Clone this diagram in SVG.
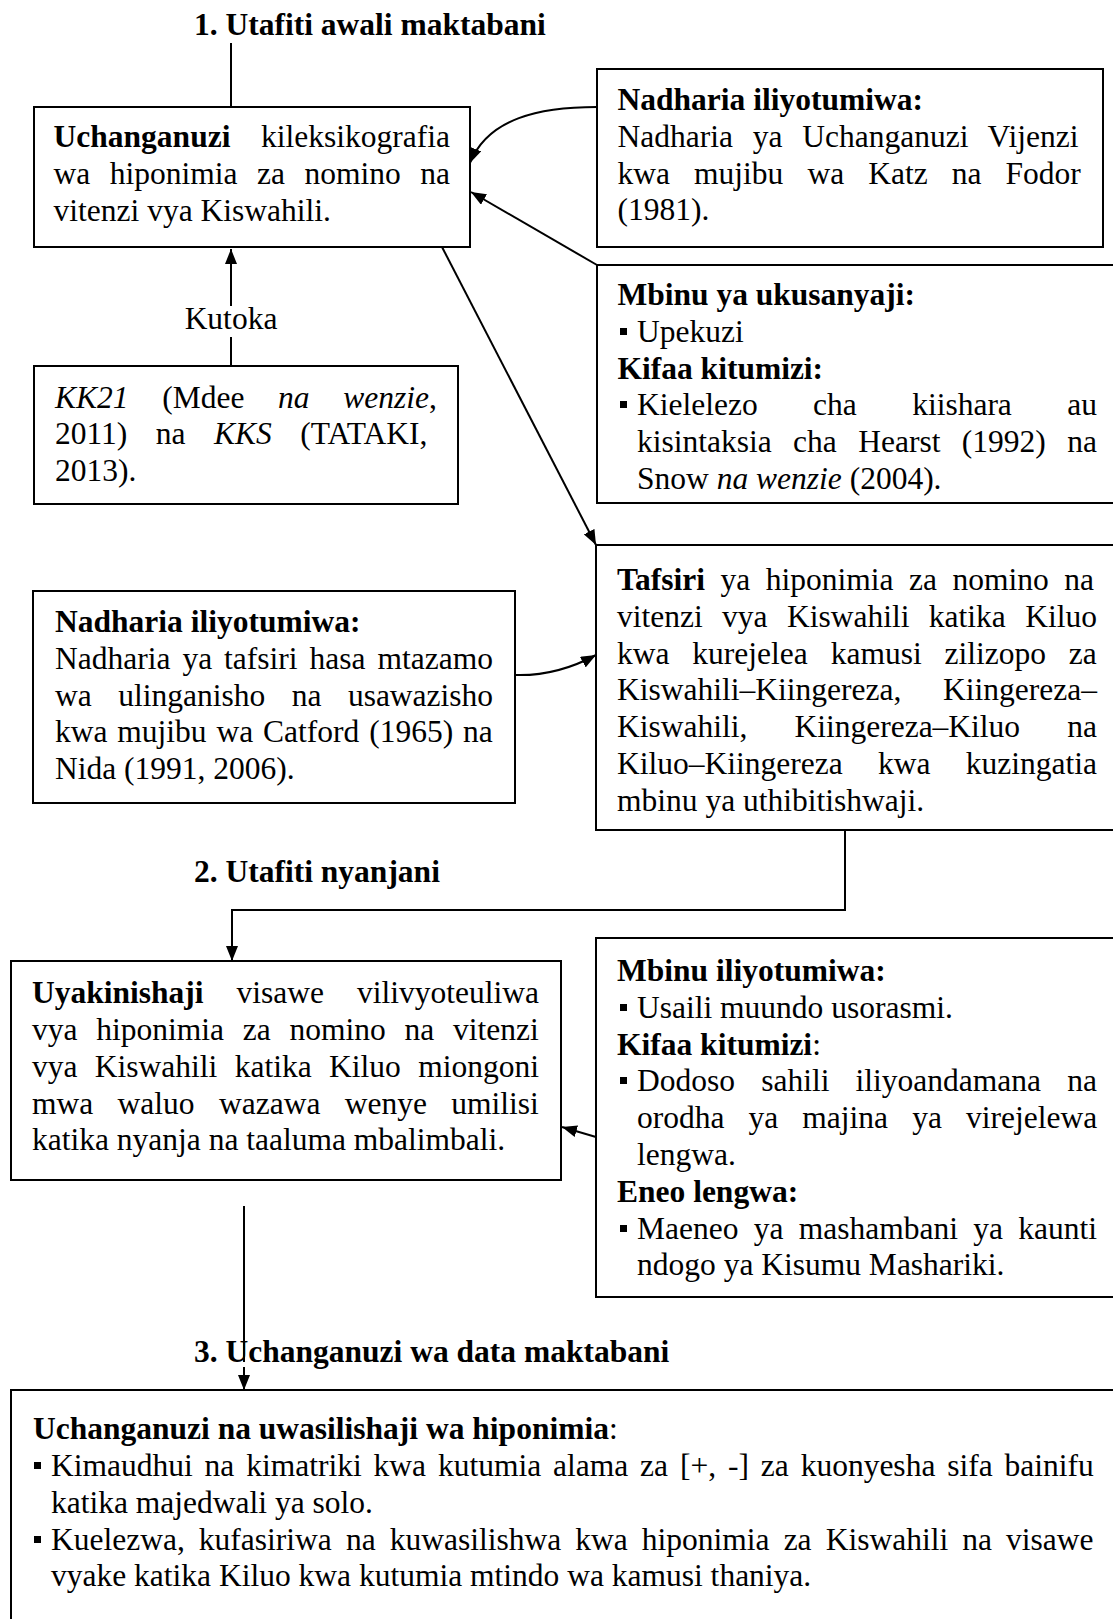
<svg xmlns="http://www.w3.org/2000/svg" width="1113" height="1619" viewBox="0 0 1113 1619">
<defs>
<style>
text{font-family:"Liberation Serif","Times New Roman",serif;font-size:31.5px;fill:#000}
.b{font-weight:bold}
.i{font-style:italic}
.box{fill:#fff;stroke:#000;stroke-width:2}
.ln{fill:none;stroke:#000;stroke-width:2}
.bul{fill:#000}
</style>
<marker id="ah" markerUnits="userSpaceOnUse" markerWidth="15" markerHeight="12" refX="15" refY="6" orient="auto">
<path d="M0,0 L15,6 L0,12 z" fill="#000"/>
</marker>
</defs>
<rect width="1113" height="1619" fill="#fff"/>

<g id="connectors">
<line class="ln" x1="231" y1="43" x2="231" y2="107"/>
<line class="ln" x1="231" y1="367" x2="231" y2="337"/>
<line class="ln" x1="231" y1="306" x2="231" y2="249" marker-end="url(#ah)"/>
<line class="ln" x1="442" y1="247" x2="596" y2="545" marker-end="url(#ah)"/>
<path class="ln" d="M597,107 C540,107 488,118 470,163" marker-end="url(#ah)"/>
<line class="ln" x1="597" y1="265" x2="471" y2="192" marker-end="url(#ah)"/>
<path class="ln" d="M515,675 C545,676 572,668 596,655" marker-end="url(#ah)"/>
<polyline class="ln" points="845,830 845,910 232,910 232,961" marker-end="url(#ah)"/>
<line class="ln" x1="596" y1="1137" x2="562" y2="1127" marker-end="url(#ah)"/>
<line class="ln" x1="244" y1="1206" x2="244" y2="1362"/>
<line class="ln" x1="244" y1="1367" x2="244" y2="1390" marker-end="url(#ah)"/>
</g>

<g id="heading1"><text class="b" x="194" y="35">1. Utafiti awali maktabani</text></g>
<g id="heading2"><text class="b" x="194" y="882">2.  Utafiti nyanjani</text></g>
<g id="heading3"><text class="b" x="194" y="1362">3.  Uchanganuzi wa data maktabani</text></g>
<g id="label-kutoka"><text x="231" y="329" text-anchor="middle">Kutoka</text></g>

<g id="node-uchanganuzi">
<rect class="box" x="34" y="107" width="436" height="140"/>
<text class="b" x="53.6" y="147">Uchanganuzi</text>
<text x="450" y="147" text-anchor="end">kileksikografia</text>
<text x="53.6" y="184" style="word-spacing:11.6px">wa hiponimia za nomino na</text>
<text x="53.6" y="221">vitenzi vya Kiswahili.</text>
</g>

<g id="node-nadharia1">
<rect class="box" x="597" y="69" width="506" height="178"/>
<text class="b" x="617.5" y="110">Nadharia iliyotumiwa:</text>
<text x="617.5" y="147" style="word-spacing:11.9px">Nadharia ya Uchanganuzi Vijenzi</text>
<text x="617.5" y="184" style="word-spacing:16.2px">kwa mujibu wa Katz na Fodor</text>
<text x="617.5" y="220">(1981).</text>
</g>

<g id="node-mbinu1">
<rect class="box" x="597" y="265" width="530" height="238"/>
<text class="b" x="617.5" y="305">Mbinu ya ukusanyaji:</text>
<rect class="bul" x="620" y="328" width="7" height="7"/>
<text x="637" y="342">Upekuzi</text>
<text class="b" x="617.5" y="379">Kifaa kitumizi:</text>
<rect class="bul" x="620" y="401" width="7" height="7"/>
<text x="637" y="415" style="word-spacing:47.5px">Kielelezo cha kiishara au</text>
<text x="637" y="452" style="word-spacing:13.5px">kisintaksia cha Hearst (1992) na</text>
<text x="637" y="489">Snow <tspan class="i">na wenzie</tspan> (2004).</text>
</g>

<g id="node-kk21">
<rect class="box" x="34" y="366" width="424" height="138"/>
<text x="55" y="408" style="word-spacing:25.8px"><tspan class="i">KK21</tspan> (Mdee <tspan class="i">na wenzie</tspan>,</text>
<text x="55" y="444" style="word-spacing:20.6px">2011) na <tspan class="i">KKS</tspan> (TATAKI,</text>
<text x="55" y="481">2013).</text>
</g>

<g id="node-nadharia2">
<rect class="box" x="33" y="591" width="482" height="212"/>
<text class="b" x="55" y="632">Nadharia iliyotumiwa:</text>
<text x="55" y="669" style="word-spacing:4.1px">Nadharia ya tafsiri hasa mtazamo</text>
<text x="55" y="706" style="word-spacing:18.6px">wa ulinganisho na usawazisho</text>
<text x="55" y="742" style="word-spacing:2px">kwa mujibu wa Catford (1965) na</text>
<text x="55" y="779">Nida (1991, 2006).</text>
</g>

<g id="node-tafsiri">
<rect class="box" x="596" y="545" width="530" height="285"/>
<text x="617" y="590" style="word-spacing:7.6px"><tspan class="b">Tafsiri</tspan> ya hiponimia za nomino na</text>
<text x="617" y="627" style="word-spacing:11.5px">vitenzi vya Kiswahili katika Kiluo</text>
<text x="617" y="664" style="word-spacing:15px">kwa kurejelea kamusi zilizopo za</text>
<text x="617" y="700" style="word-spacing:33.9px">Kiswahili–Kiingereza, Kiingereza–</text>
<text x="617" y="737" style="word-spacing:39.2px">Kiswahili, Kiingereza–Kiluo na</text>
<text x="617" y="774" style="word-spacing:27.4px">Kiluo–Kiingereza kwa kuzingatia</text>
<text x="617" y="811">mbinu ya uthibitishwaji.</text>
</g>

<g id="node-uyakinishaji">
<rect class="box" x="11" y="961" width="550" height="219"/>
<text x="32" y="1003" style="word-spacing:25.1px"><tspan class="b">Uyakinishaji</tspan> visawe vilivyoteuliwa</text>
<text x="32" y="1040" style="word-spacing:10.9px">vya hiponimia za nomino na vitenzi</text>
<text x="32" y="1077" style="word-spacing:9.5px">vya Kiswahili katika Kiluo miongoni</text>
<text x="32" y="1114" style="word-spacing:16.5px">mwa waluo wazawa wenye umilisi</text>
<text x="32" y="1150">katika nyanja na taaluma mbalimbali.</text>
</g>

<g id="node-mbinu2">
<rect class="box" x="596" y="938" width="530" height="359"/>
<text class="b" x="617" y="981">Mbinu iliyotumiwa:</text>
<rect class="bul" x="620" y="1004" width="7" height="7"/>
<text x="637" y="1018">Usaili muundo usorasmi.</text>
<text x="617" y="1055"><tspan class="b">Kifaa kitumizi</tspan>:</text>
<rect class="bul" x="620" y="1077" width="7" height="7"/>
<text x="637" y="1091" style="word-spacing:18.3px">Dodoso sahili iliyoandamana na</text>
<text x="637" y="1128" style="word-spacing:16.2px">orodha ya majina ya virejelewa</text>
<text x="637" y="1165">lengwa.</text>
<text class="b" x="617" y="1202">Eneo lengwa:</text>
<rect class="bul" x="620" y="1225" width="7" height="7"/>
<text x="637" y="1239" style="word-spacing:7.4px">Maeneo ya mashambani ya kaunti</text>
<text x="637" y="1275">ndogo ya Kisumu Mashariki.</text>
</g>

<g id="node-uchanganuzi-data">
<rect class="box" x="11" y="1390" width="1115" height="245"/>
<text x="33" y="1439"><tspan class="b">Uchanganuzi na uwasilishaji wa hiponimia</tspan>:</text>
<rect class="bul" x="34" y="1462" width="7" height="7"/>
<text x="51" y="1476" style="word-spacing:4px">Kimaudhui na kimatriki kwa kutumia alama za [+, -] za kuonyesha sifa bainifu</text>
<text x="51" y="1513">katika majedwali ya solo.</text>
<rect class="bul" x="34" y="1536" width="7" height="7"/>
<text x="51" y="1550" style="word-spacing:6.2px">Kuelezwa, kufasiriwa na kuwasilishwa kwa hiponimia za Kiswahili na visawe</text>
<text x="51" y="1586">vyake katika Kiluo kwa kutumia mtindo wa kamusi thaniya.</text>
</g>
</svg>
